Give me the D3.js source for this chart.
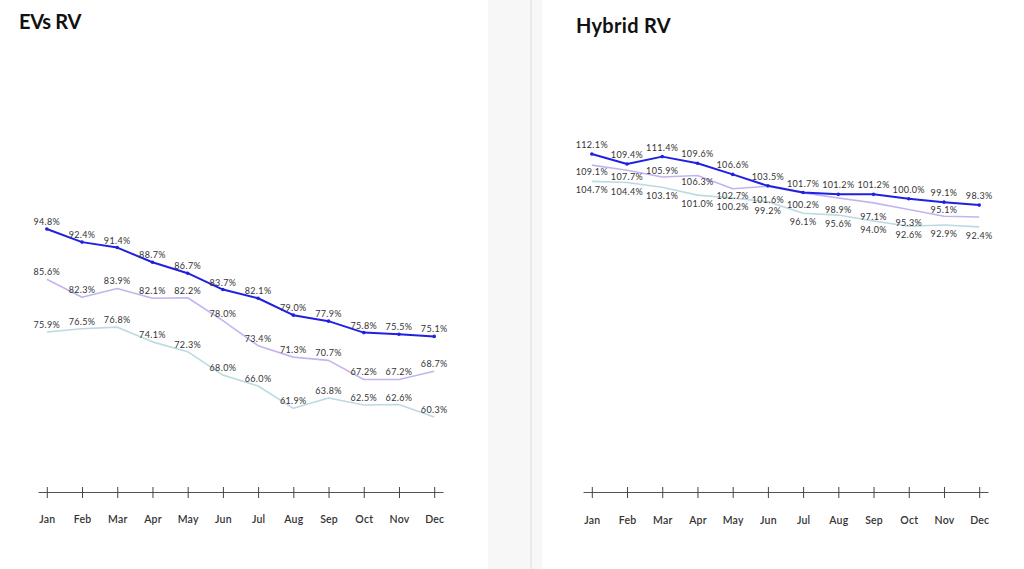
<!DOCTYPE html>
<html>
 <head>
    <script src="https://d3js.org/d3.v7.min.js"></script>
    <style>
      body { margin: 0; background: #fff; }
      svg text { font-family: Lato, "Noto Sans", sans-serif; }
    </style>
 </head>
 <body>
    <div id="chart"></div>
<script>

// months on both x axes
var months = ["Jan","Feb","Mar","Apr","May","Jun","Jul","Aug","Sep","Oct","Nov","Dec"];

// EVs RV (%)
var evBlue  = [94.8, 92.4, 91.4, 88.7, 86.7, 83.7, 82.1, 79.0, 77.9, 75.8, 75.5, 75.1];
var evLav   = [85.6, 82.3, 83.9, 82.1, 82.2, 78.0, 73.4, 71.3, 70.7, 67.2, 67.2, 68.7];
var evTeal  = [75.9, 76.5, 76.8, 74.1, 72.3, 68.0, 66.0, 61.9, 63.8, 62.5, 62.6, 60.3];

// Hybrid RV (%)
var hybBlue = [112.1, 109.4, 111.4, 109.6, 106.6, 103.5, 101.7, 101.2, 101.2, 100.0, 99.1, 98.3];
var hybLav  = [109.1, 107.7, 105.9, 106.3, 102.7, 103.4, 101.6, 100.2, 98.9, 97.1, 95.3, 95.1];
var hybTeal = [104.7, 104.4, 103.1, 101.0, 100.2, 99.2, 96.1, 95.6, 94.0, 92.6, 92.9, 92.4];

var colors = { blue: "#2020e2", lav: "#c5b3f0", teal: "#bcdae2" };

var W = 1024, H = 569;
var svg = d3.select("#chart").append("svg")
    .attr("width", W).attr("height", H);

// backdrop: grey gutter between the two cards
svg.append("rect").attr("x", 488).attr("y", 0).attr("width", 54).attr("height", H)
    .attr("fill", "#f7f7f7");
svg.append("line").attr("x1", 531).attr("x2", 531).attr("y1", 0).attr("y2", H)
    .attr("stroke", "#e6e6e6").attr("stroke-width", 1.5);

function drawPanel(opt) {
  var g = svg.append("g");

  g.append("text")
    .attr("x", opt.titleX).attr("y", opt.titleY)
    .attr("font-size", opt.titleSize).attr("font-weight", 700)
    .attr("letter-spacing", opt.titleSpacing)
    .attr("fill", "#111")
    .text(opt.title);

  var x = d3.scalePoint().domain(months).range(opt.xRange).padding(0.25);
  var y = d3.scaleLinear().domain(opt.yDomain).range(opt.yRange);

  // x axis
  var ax = g.append("g")
    .attr("transform", "translate(0," + opt.axisY + ")")
    .call(d3.axisBottom(x).tickSizeOuter(0).tickSizeInner(6));
  ax.select(".domain").attr("stroke", "#555");
  ax.selectAll(".tick line").attr("y1", -5).attr("y2", 6).attr("stroke", "#444");
  ax.selectAll(".tick text")
    .attr("y", opt.tickLabelY).attr("dy", 0)
    .attr("font-size", 10.5).attr("font-weight", 600)
    .attr("letter-spacing", "0.2px")
    .attr("fill", "#333");

  var line = d3.line()
    .x(function(d, i) { return x(months[i]); })
    .y(function(d) { return y(d); });

  // draw back to front
  opt.series.slice().reverse().forEach(function(s) {
    g.append("path")
      .datum(s.values)
      .attr("fill", "none")
      .attr("stroke", colors[s.color])
      .attr("stroke-width", s.width)
      .attr("stroke-linejoin", "round")
      .attr("d", line);

    if (s.dots) {
      g.selectAll(null)
        .data(s.values)
        .join("circle")
          .attr("cx", function(d, i) { return x(months[i]); })
          .attr("cy", function(d) { return y(d); })
          .attr("r", 1.8)
          .attr("fill", colors[s.color]);
    }
  });

  opt.series.forEach(function(s) {
    g.selectAll(null)
      .data(s.values)
      .join("text")
        .filter(function(d, i) { return !(s.hide && s.hide.indexOf(months[i]) >= 0); })
        .attr("x", function(d, i) { return x(months[i]); })
        .attr("y", function(d, i) {
          var shift = (s.shift && s.shift[months[i]]) || 0;
          return y(d) + s.labelDy + shift;
        })
        .attr("text-anchor", "middle")
        .attr("font-size", 9)
        .attr("letter-spacing", "0.35px")
        .attr("fill", "#333")
        .text(function(d) { return d.toFixed(1) + "%"; });
  });
}

drawPanel({
  title: "EVs RV", titleX: 19, titleY: 29, titleSize: 20, titleSpacing: "-0.3px",
  xRange: [38, 443], yDomain: [50, 100], yRange: [473.2, 200.7],
  axisY: 492, tickLabelY: 31,
  series: [
    { values: evBlue, color: "blue", width: 2, dots: true, labelDy: -4 },
    { values: evLav,  color: "lav",  width: 1.6, labelDy: -4 },
    { values: evTeal, color: "teal", width: 1.6, labelDy: -4 }
  ]
});

drawPanel({
  title: "Hybrid RV", titleX: 576, titleY: 33, titleSize: 20, titleSpacing: "0.3px",
  xRange: [583, 988], yDomain: [90, 115], yRange: [235.8, 143.3],
  axisY: 492, tickLabelY: 32,
  series: [
    { values: hybBlue, color: "blue", width: 2, dots: true, labelDy: -6 },
    { values: hybLav,  color: "lav",  width: 1.6, labelDy: 10,
      hide: ["Jun"], shift: { Mar: -13, Nov: -14, Dec: -7 } },
    { values: hybTeal, color: "teal", width: 1.6, labelDy: 12 }
  ]
});

</script>
 </body>
</html>
